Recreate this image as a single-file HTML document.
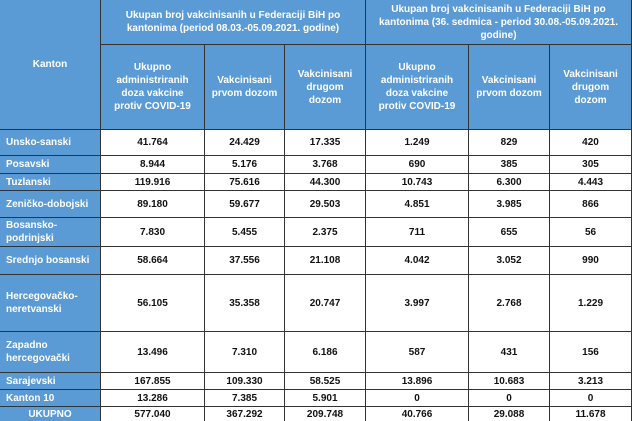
<!DOCTYPE html>
<html><head><meta charset="utf-8"><style>
html,body{margin:0;padding:0;background:#fff;}
#t{position:relative;width:632px;height:421px;overflow:hidden;font-family:"Liberation Sans",sans-serif;font-weight:bold;}
.c{position:absolute;box-sizing:border-box;display:flex;align-items:center;justify-content:center;text-align:center;font-size:10px;line-height:13px;color:#111;border-right:1px solid #333;border-bottom:1px solid #333;}
.h{background:#5b9bd5;color:#fff;font-size:10px;}
.l{background:#5b9bd5;color:#fff;justify-content:flex-start;text-align:left;padding-left:6px;}
</style></head><body><div id="t">
<div class="c h" style="left:0;top:0;width:101px;height:130px;">Kanton</div>
<div class="c h" style="left:101px;top:0;width:265px;height:45px;">Ukupan broj vakcinisanih u Federaciji BiH po<br>kantonima (period 08.03.-05.09.2021. godine)</div>
<div class="c h" style="left:366px;top:0;width:266px;height:45px;">Ukupan broj vakcinisanih u Federaciji BiH po<br>kantonima (36. sedmica - period 30.08.-05.09.2021.<br>godine)</div>
<div class="c h" style="left:101px;top:45px;width:104px;height:85px;">Ukupno<br>administriranih<br>doza vakcine<br>protiv COVID-19</div>
<div class="c h" style="left:205px;top:45px;width:80px;height:85px;">Vakcinisani<br>prvom dozom</div>
<div class="c h" style="left:285px;top:45px;width:81px;height:85px;">Vakcinisani<br>drugom<br>dozom</div>
<div class="c h" style="left:366px;top:45px;width:103px;height:85px;">Ukupno<br>administriranih<br>doza vakcine<br>protiv COVID-19</div>
<div class="c h" style="left:469px;top:45px;width:81px;height:85px;">Vakcinisani<br>prvom dozom</div>
<div class="c h" style="left:550px;top:45px;width:82px;height:85px;">Vakcinisani<br>drugom<br>dozom</div>
<script>
var rows=[["Unsko-sanski",130,156,"41.764","24.429","17.335","1.249","829","420"],
["Posavski",156,174,"8.944","5.176","3.768","690","385","305"],
["Tuzlanski",174,191,"119.916","75.616","44.300","10.743","6.300","4.443"],
["Zeničko-dobojski",191,218,"89.180","59.677","29.503","4.851","3.985","866"],
["Bosansko-<br>podrinjski",218,247,"7.830","5.455","2.375","711","655","56"],
["Srednjo bosanski",247,275,"58.664","37.556","21.108","4.042","3.052","990"],
["Hercegovačko-<br>neretvanski",275,332,"56.105","35.358","20.747","3.997","2.768","1.229"],
["Zapadno<br>hercegovački",332,373,"13.496","7.310","6.186","587","431","156"],
["Sarajevski",373,390,"167.855","109.330","58.525","13.896","10.683","3.213"],
["Kanton 10",390,407,"13.286","7.385","5.901","0","0","0"],
["UKUPNO",407,423,"577.040","367.292","209.748","40.766","29.088","11.678"]];
var xs=[0,101,205,285,366,469,550,632],h="";
rows.forEach(function(r,i){var t=r[1],hh=r[2]-r[1];
h+='<div class="c '+(i==10?'h':'l')+'" style="left:0;top:'+t+'px;width:101px;height:'+hh+'px;">'+r[0]+'</div>';
for(var k=0;k<6;k++)h+='<div class="c" style="left:'+xs[k+1]+'px;top:'+t+'px;width:'+(xs[k+2]-xs[k+1])+'px;height:'+hh+'px;">'+r[k+3]+'</div>';});
document.write(h);
</script>
</div></body></html>
